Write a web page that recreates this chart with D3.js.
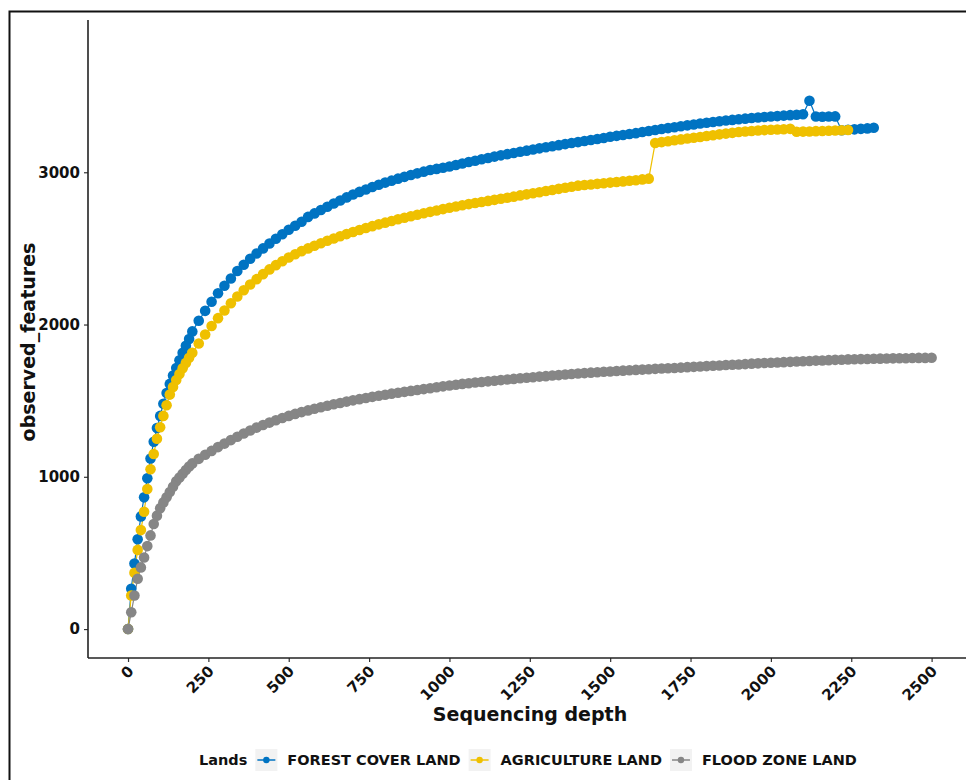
<!DOCTYPE html>
<html>
<head>
<meta charset="utf-8">
<script src="https://cdn.jsdelivr.net/npm/d3@7"></script>
<style>
  html, body { margin: 0; padding: 0; background: #ffffff; }
  svg { display: block; font-family: "DejaVu Sans", sans-serif; }
</style>
</head>
<body>
<svg id="chart" width="966" height="780"></svg>
<script>
// Rarefaction depths shared by all three land types
const depths = [0,10,20,30,40,50,60,70,80,90,100,110,120,130,140,150,160,170,180,190,200,
  220,240,260,280,300,320,340,360,380,400,420,440,460,480,500,
  520,540,560,580,600,620,640,660,680,700,720,740,760,780,800,820,840,860,880,900,920,940,960,980,1000,
  1020,1040,1060,1080,1100,1120,1140,1160,1180,1200,1220,1240,1260,1280,1300,1320,1340,1360,1380,1400,1420,1440,1460,1480,1500,
  1520,1540,1560,1580,1600,1620,1640,1660,1680,1700,1720,1740,1760,1780,1800,1820,1840,1860,1880,1900,1920,1940,1960,1980,2000,
  2020,2040,2060,2080,2100,2120,2140,2160,2180,2200,2220,2240,2260,2280,2300,2320,2340,2360,2380,2400,2420,2440,2460,2480,2500];

// observed_features per land type (one value per depth, series stop at their max depth)
const forestCover = [0,265,430,590,740,865,990,1120,1230,1320,1400,1480,1550,1610,1665,1715,1765,1815,1860,1905,1955,
  2025,2090,2150,2205,2255,2302,2352,2393,2432,2467,2500,2532,2563,2593,2622,
  2649,2675,2707,2730,2752,2774,2795,2815,2835,2854,2871,2887,2903,2918,2932,2945,2958,2970,2982,2993,3004,3015,3022,3030,3038,
  3048,3058,3067,3076,3085,3094,3103,3111,3119,3127,3135,3142,3150,3157,3164,3171,3178,3185,3192,3198,3205,3212,3218,3225,3233,
  3239,3245,3251,3257,3264,3271,3278,3284,3290,3296,3302,3308,3314,3320,3325,3330,3335,3340,3344,3348,3352,3356,3360,3363,3366,
  3369,3372,3375,3378,3381,3470,3366,3365,3366,3367,3276,3279,3282,3285,3288,3292];

const agriculture = [0,220,370,520,650,770,920,1050,1150,1250,1325,1400,1470,1540,1590,1635,1675,1713,1748,1782,1815,
  1875,1935,1990,2042,2092,2140,2184,2225,2263,2298,2331,2362,2390,2416,2440,
  2462,2482,2500,2517,2534,2550,2565,2580,2594,2608,2621,2634,2646,2658,2669,2680,2691,2701,2711,2721,2731,2740,2749,2758,2767,
  2775,2783,2791,2798,2805,2812,2819,2826,2833,2840,2848,2855,2862,2869,2877,2884,2891,2898,2905,2912,2916,2920,2924,2928,2932,
  2936,2940,2944,2948,2953,2958,3192,3198,3204,3210,3216,3222,3227,3232,3238,3243,3249,3254,3259,3264,3268,3271,3274,3277,3279,
  3281,3283,3285,3266,3267,3268,3270,3271,3273,3274,3276,3278];

const floodZone = [0,110,220,330,405,470,545,615,690,745,794,832,865,900,935,970,995,1020,1045,1068,1088,
  1118,1145,1170,1195,1218,1241,1263,1284,1304,1323,1340,1356,1371,1386,1400,
  1413,1425,1436,1447,1457,1467,1476,1485,1494,1502,1510,1518,1525,1532,1539,1546,1552,1558,1564,1570,1576,1582,1588,1594,1600,
  1605,1610,1614,1619,1623,1627,1631,1635,1639,1643,1647,1651,1654,1658,1661,1665,1668,1672,1675,1678,1681,1684,1687,1690,1692,
  1695,1697,1700,1702,1704,1706,1709,1711,1713,1715,1717,1720,1722,1724,1727,1729,1731,1734,1736,1738,1740,1743,1745,1747,1749,
  1751,1753,1755,1757,1759,1761,1763,1764,1766,1768,1769,1771,1772,1773,1774,1775,1776,1777,1778,1779,1779,1780,1781,1781,1782];

const landNames = ["FOREST COVER LAND", "AGRICULTURE LAND", "FLOOD ZONE LAND"];
const landColors = ["#0073C2", "#EFC000", "#868686"];
const xTicks = [0,250,500,750,1000,1250,1500,1750,2000,2250,2500];
const yTicks = [0,1000,2000,3000];

const seriesValues = [forestCover, agriculture, floodZone];
const series = landNames.map((name, i) => ({
  name, color: landColors[i],
  points: seriesValues[i].map((v, j) => ({ depth: depths[j], value: v }))
}));

const svg = d3.select("#chart");

// outer frame
svg.append("rect")
  .attr("x", 9.5).attr("y", 11.5)
  .attr("width", 1000).attr("height", 1000)
  .attr("fill", "none").attr("stroke", "#111").attr("stroke-width", 2);

const x = d3.scaleLinear().domain([-124.5, 2607]).range([88, 966]);
const y = d3.scaleLinear().domain([-190, 4000]).range([658, 20]);

// lines first, then points (series order)
const line = d3.line().x(d => x(d.depth)).y(d => y(d.value));
const plot = svg.append("g");
series.forEach(s => {
  plot.append("path")
    .datum(s.points)
    .attr("d", line)
    .attr("fill", "none")
    .attr("stroke", s.color)
    .attr("stroke-width", 1.2);
});
series.forEach(s => {
  plot.append("g").selectAll("circle")
    .data(s.points)
    .join("circle")
    .attr("cx", d => x(d.depth))
    .attr("cy", d => y(d.value))
    .attr("r", 5.3)
    .attr("fill", s.color);
});

// axes
const yAxis = svg.append("g")
  .attr("transform", "translate(88,0)")
  .call(d3.axisLeft(y).tickValues(yTicks).tickSize(4).tickPadding(4).tickFormat(d3.format("d")));
yAxis.select(".domain").remove();
yAxis.append("line").attr("x1", 0).attr("x2", 0).attr("y1", 20).attr("y2", 658)
  .attr("stroke", "#222").attr("stroke-width", 1.6);
yAxis.selectAll(".tick line").attr("stroke", "#333").attr("stroke-width", 1.2);
yAxis.selectAll(".tick text")
  .attr("fill", "#111").style("font-size", "15px").style("font-weight", "bold")
  .style("font-family", "DejaVu Sans");

const xAxis = svg.append("g")
  .attr("transform", "translate(0,658)")
  .call(d3.axisBottom(x).tickValues(xTicks).tickSize(4).tickFormat(d3.format("d")));
xAxis.select(".domain").remove();
xAxis.append("line").attr("x1", 88).attr("x2", 966).attr("y1", 0).attr("y2", 0)
  .attr("stroke", "#222").attr("stroke-width", 1.6);
xAxis.selectAll(".tick line").attr("stroke", "#333").attr("stroke-width", 1.2);
xAxis.selectAll(".tick text")
  .attr("fill", "#111").style("font-size", "15px").style("font-weight", "bold")
  .style("font-family", "DejaVu Sans")
  .attr("text-anchor", "end")
  .attr("dy", null).attr("y", null)
  .attr("transform", "translate(6,14) rotate(-45)");

// axis titles
svg.append("text")
  .attr("x", 530).attr("y", 721)
  .attr("text-anchor", "middle")
  .style("font-size", "19px").style("font-weight", "bold").attr("fill", "#111")
  .text("Sequencing depth");
svg.append("text")
  .attr("transform", "translate(35,342) rotate(-90)")
  .attr("text-anchor", "middle")
  .style("font-size", "19px").style("font-weight", "bold").attr("fill", "#111")
  .text("observed_features");

// legend
const legend = svg.append("g").attr("transform", "translate(199,760)");
const title = legend.append("text")
  .attr("x", 0).attr("y", 5)
  .style("font-size", "14.5px").style("font-weight", "bold").attr("fill", "#111")
  .text("Lands");
let cx = title.node().getComputedTextLength() + 8;
series.forEach(s => {
  const key = legend.append("g").attr("transform", `translate(${cx},0)`);
  key.append("rect").attr("x", 0).attr("y", -11).attr("width", 22).attr("height", 22).attr("fill", "#f2f2f2");
  key.append("line").attr("x1", 2).attr("x2", 20).attr("y1", 0).attr("y2", 0)
    .attr("stroke", s.color).attr("stroke-width", 1.5);
  key.append("circle").attr("cx", 11).attr("cy", 0).attr("r", 3.2).attr("fill", s.color);
  const t = legend.append("text")
    .attr("x", cx + 32).attr("y", 5)
    .style("font-size", "14.5px").style("font-weight", "bold").attr("fill", "#111")
    .text(s.name);
  cx += 32 + t.node().getComputedTextLength() + 8;
});
</script>
</body>
</html>
